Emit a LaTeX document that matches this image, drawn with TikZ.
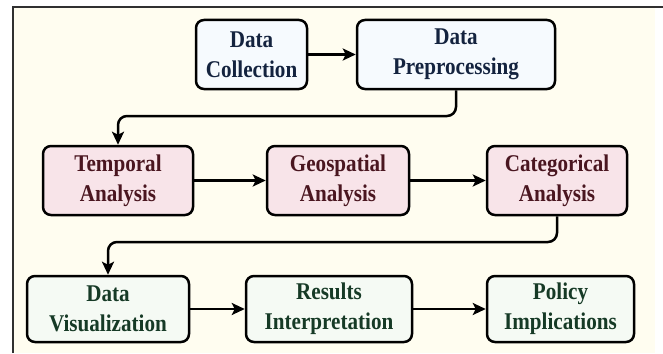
\documentclass[tikz,border=0pt]{standalone}
\usepackage{fontspec}
\setmainfont{Liberation Serif}[FakeStretch=0.88]
\usetikzlibrary{arrows.meta}

\definecolor{paper}{HTML}{FFFDF0}
\definecolor{framegray}{HTML}{303030}
\definecolor{bluefill}{HTML}{F6FAFE}
\definecolor{bluetext}{HTML}{14233F}
\definecolor{pinkfill}{HTML}{F8E4E9}
\definecolor{pinktext}{HTML}{4A1620}
\definecolor{greenfill}{HTML}{F5FAF4}
\definecolor{greentext}{HTML}{163A26}

\tikzset{
  stagebox/.style={draw=black, line width=2.5pt, rounded corners=8pt,
    align=center, inner sep=0pt, minimum height=69pt,
    font=\fontsize{24}{30}\selectfont\bfseries},
  collectbox/.style={stagebox, fill=bluefill, text=bluetext},
  analysisbox/.style={stagebox, fill=pinkfill, text=pinktext},
  outcomebox/.style={stagebox, fill=greenfill, text=greentext, minimum height=66pt},
  flow/.style={draw=black, line width=2.5pt,
    -{Stealth[length=13pt, width=12pt, inset=3pt]}},
}

\begin{document}
\begin{tikzpicture}[x=1pt, y=-1pt]
  \useasboundingbox (0,0) rectangle (663,353);
  % page background and frame
  \fill[paper] (14,8) rectangle (655,353);
  \draw[framegray, line width=1.6pt] (13,353) -- (13,7) -- (663,7);

  % top row
  \node[collectbox, minimum width=111pt] (dc) at (251.5,54.5) {Data\\Collection};
  \node[collectbox, minimum width=198pt] (dp) at (456,54.5) {Data\\Preprocessing};

  % middle row
  \node[analysisbox, minimum width=150pt] (ta) at (118,180.5) {Temporal\\Analysis};
  \node[analysisbox, minimum width=142pt] (ga) at (338,180.5) {Geospatial\\Analysis};
  \node[analysisbox, minimum width=140pt] (ca) at (557,180.5) {Categorical\\Analysis};

  % bottom row
  \node[outcomebox, minimum width=162pt] (dv) at (108,309) {Data\\Visualization};
  \node[outcomebox, minimum width=166pt] (ri) at (329,309) {Results\\Interpretation};
  \node[outcomebox, minimum width=147pt] (pi) at (560.5,309) {Policy\\Implications};

  % connectors
  \draw[flow] (dc) -- (dp);
  \draw[flow, rounded corners=9pt] (dp.south) -- (dp.south |- 0,116) -| (ta.north);
  \draw[flow] (ta) -- (ga);
  \draw[flow] (ga) -- (ca);
  \draw[flow, rounded corners=9pt] (ca.south) -- (ca.south |- 0,242) -| (dv.north);
  \draw[flow] (dv) -- (ri);
  \draw[flow] (ri) -- (pi);
\end{tikzpicture}
\end{document}
